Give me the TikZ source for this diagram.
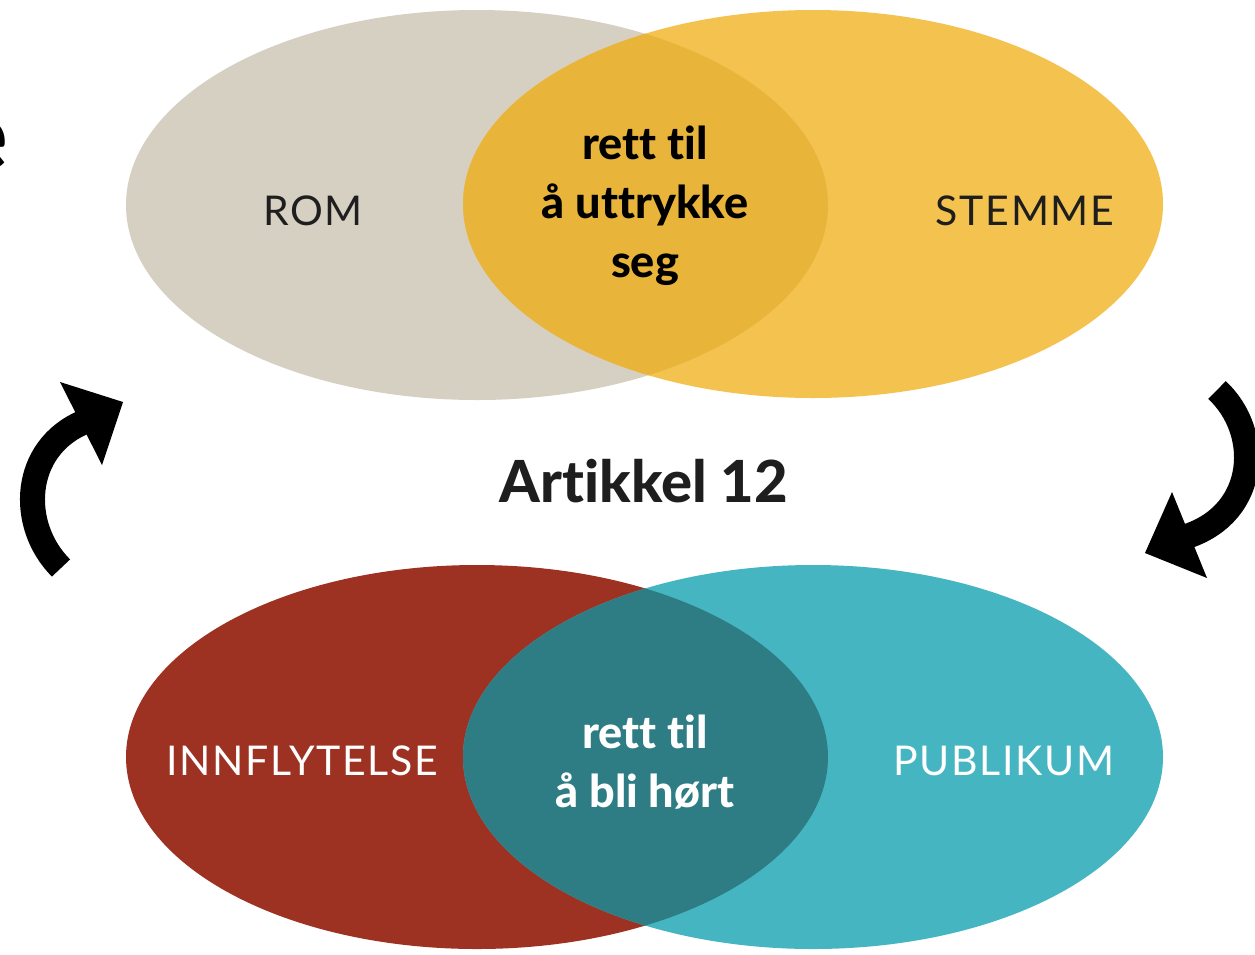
\documentclass[tikz,border=0pt]{standalone}
\usepackage{fontspec}
\setmainfont{Lato}[Ligatures=NoCommon]
\newfontfamily\heavyfont{Lato Heavy}[Ligatures=NoCommon]
\definecolor{romgrey}{HTML}{D6D0C3}
\definecolor{stemyel}{HTML}{F4C24F}
\definecolor{midyel}{HTML}{E9B43A}
\definecolor{infred}{HTML}{9E3222}
\definecolor{pubteal}{HTML}{45B6C1}
\definecolor{midteal}{HTML}{2E7D85}
\definecolor{ink}{HTML}{1E1E1E}
\begin{document}
\begin{tikzpicture}[x=1pt,y=-1pt,
  lbl/.style={inner sep=0pt, font=\fontsize{41}{49}\selectfont\addfontfeature{LetterSpace=4}},
  midlbl/.style={inner sep=0pt, align=center, font=\fontsize{45}{59}\selectfont\heavyfont},
  shaft/.style={line width=25pt, black},
  head/.style={fill=black}]
\useasboundingbox (0,0) rectangle (1255,954);
% top Venn
\fill[romgrey] (477,205) ellipse [x radius=351, y radius=195];
\fill[stemyel] (813,204) ellipse [x radius=350, y radius=194];
\begin{scope}
  \clip (477,205) ellipse [x radius=351, y radius=195];
  \fill[midyel] (813,204) ellipse [x radius=350, y radius=194];
\end{scope}
% bottom Venn
\fill[infred] (477,757) ellipse [x radius=351, y radius=192];
\fill[pubteal] (813,757) ellipse [x radius=350, y radius=192];
\begin{scope}
  \clip (477,757) ellipse [x radius=351, y radius=192];
  \fill[midteal] (813,757) ellipse [x radius=350, y radius=192];
\end{scope}
% labels
\node[lbl, text=ink] (rom) at (313,211) {ROM};
\node[lbl, text=ink] (stemme) at (1025,211) {STEMME};
\node[midlbl, text=black] (uttr) at (645,206) {rett til\\å uttrykke\\seg};
\node[inner sep=0pt, font=\fontsize{58}{60}\selectfont\heavyfont, text=ink] (art) at (644,481) {Artikkel 12};
\node[lbl, text=white] (innf) at (302,761) {INNFLYTELSE};
\node[lbl, text=white] (publ) at (1004,761) {PUBLIKUM};
\node[midlbl, text=white] (hort) at (645,762) {rett til\\å bli hørt};
% cropped letter at the left edge
\node[inner sep=0pt, anchor=base east, font=\fontsize{98}{100}\selectfont\heavyfont] (frag) at (8,170) {e};
% cycle arrows
\coordinate (la0) at (61,568);
\coordinate (la1) at (84,422);
\coordinate (lt) at (123,402);
\coordinate (lb1) at (60,382);
\coordinate (lb2) at (102,465);
\draw[shaft] (la0) .. controls (18,525) and (22,448) .. (la1);
\fill[head] (lb1) -- (lt) -- (lb2) -- cycle;
\coordinate (ra0) at (1217,390);
\coordinate (ra1) at (1188,536);
\coordinate (rt) at (1145,553);
\coordinate (rb1) at (1172,492);
\coordinate (rb2) at (1207,578);
\draw[shaft] (ra0) .. controls (1262,432) and (1258,512) .. (ra1);
\fill[head] (rb1) -- (rt) -- (rb2) -- cycle;
\end{tikzpicture}
\end{document}
